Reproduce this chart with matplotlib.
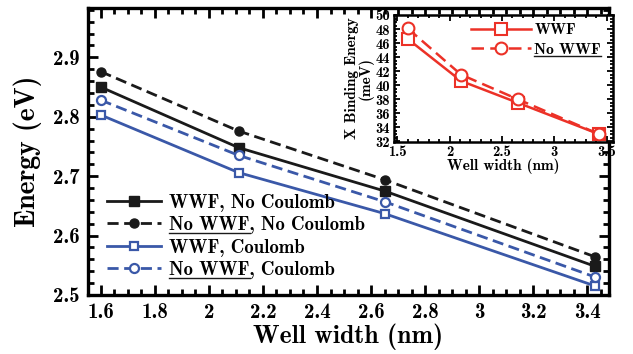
import numpy as np
import matplotlib
matplotlib.use('Agg')
import matplotlib.pyplot as plt
from matplotlib.ticker import MultipleLocator, FuncFormatter
from matplotlib.lines import Line2D

plt.rcParams['font.family'] = ['cmb10', 'DejaVu Serif']
plt.rcParams['axes.unicode_minus'] = False
plt.rcParams['mathtext.fontset'] = 'cm'

# data
width = [1.6, 2.11, 2.65, 3.43]
wwf_nocoul = [2.850, 2.748, 2.675, 2.548]
nowwf_nocoul = [2.876, 2.776, 2.694, 2.564]
wwf_coul = [2.803, 2.706, 2.637, 2.515]
nowwf_coul = [2.828, 2.735, 2.657, 2.530]

eb_wwf = [46.6, 40.6, 37.5, 33.0]
eb_nowwf = [48.1, 41.5, 38.0, 33.0]

BLACK = '#1a1a1a'
BLUE = '#3a58a8'
RED = '#ec3127'

fig = plt.figure(figsize=(6.33, 3.54), dpi=100)
W, H = 633, 354
ax = fig.add_axes([88 / W, 1 - 295 / H, (609 - 88) / W, (295 - 8) / H])

ax.plot(width, wwf_nocoul, '-', color=BLACK, lw=2, marker='s', ms=6.5,
        label='WWF, No Coulomb')
ax.plot(width, nowwf_nocoul, '--', color=BLACK, lw=2, marker='o', ms=6.5,
        dashes=(4, 2), label='No WWF, No Coulomb')
ax.plot(width, wwf_coul, '-', color=BLUE, lw=2, marker='s', ms=6, mfc='white',
        mew=1.6, label='WWF, Coulomb')
ax.plot(width, nowwf_coul, '--', color=BLUE, lw=2, marker='o', ms=6.5, mfc='white',
        mew=1.6, dashes=(4, 2), label='No WWF, Coulomb')

ax.set_xlim(1.553, 3.48)
ax.set_ylim(2.5, 2.983)
ax.xaxis.set_major_locator(MultipleLocator(0.2))
ax.xaxis.set_minor_locator(MultipleLocator(0.05))
ax.yaxis.set_major_locator(MultipleLocator(0.1))
ax.yaxis.set_minor_locator(MultipleLocator(0.02))
fmt = FuncFormatter(lambda v, p: '%g' % round(v, 3))
ax.xaxis.set_major_formatter(fmt)
ax.yaxis.set_major_formatter(fmt)
ax.tick_params(which='both', direction='in', top=True, right=True, width=2, labelsize=15)
ax.tick_params(which='major', length=7, pad=6)
ax.tick_params(which='minor', length=4)
for s in ax.spines.values():
    s.set_linewidth(2.4)
ax.set_xlabel('Well width (nm)', fontsize=18.5, labelpad=1)
ax.set_ylabel('Energy (eV)', fontsize=20, labelpad=8)

leg = ax.legend(loc='lower left', bbox_to_anchor=(0.012, 0.01), frameon=False,
                fontsize=13.5, handlelength=2.85, handletextpad=0.45,
                labelspacing=0.24, borderpad=0.2)

# inset
ins = fig.add_axes([394 / W, 1 - 142 / H, (613 - 394) / W, (142 - 15) / H])
ins.plot(width, eb_wwf, '-', color=RED, lw=1.8, marker='s', ms=8, mfc='white',
         mew=1.5, label='WWF')
ins.plot(width, eb_nowwf, '--', color=RED, lw=1.8, marker='o', ms=8.5, mfc='white',
         mew=1.5, dashes=(5, 2.5), label='No WWF')
ins.set_xlim(1.47, 3.56)
ins.set_ylim(31.9, 50)
ins.xaxis.set_major_locator(MultipleLocator(0.5))
ins.xaxis.set_minor_locator(MultipleLocator(0.1))
ins.yaxis.set_major_locator(MultipleLocator(2))
ins.yaxis.set_minor_locator(MultipleLocator(0.5))
ins.xaxis.set_major_formatter(fmt)
ins.tick_params(which='both', direction='in', top=True, right=True, width=1.3, labelsize=10.5)
ins.tick_params(which='major', length=4.5)
ins.tick_params(axis='y', which='major', pad=3)
ins.tick_params(axis='x', which='major', pad=2)
ins.tick_params(which='minor', length=2.5)
for s in ins.spines.values():
    s.set_linewidth(1.8)
ins.set_xlabel('Well width (nm)', fontsize=11, labelpad=0)
ins.set_ylabel('X Binding Energy\n(meV)', fontsize=11, labelpad=1, linespacing=0.95)
leg2 = ins.legend(loc='upper right', bbox_to_anchor=(0.995, 1.02), frameon=False,
                  fontsize=11.2, handlelength=3.85, handletextpad=0.2,
                  labelspacing=0.35, borderpad=0.2)

# underline "No WWF" in legend labels
fig.canvas.draw()
rend = fig.canvas.get_renderer()
for lg in (leg, leg2):
    for t in lg.get_texts():
        if t.get_text().startswith('No WWF'):
            bb = t.get_window_extent(rend)
            w, h, d = rend.get_text_width_height_descent('No WWF', t.get_fontproperties(),
                                                         ismath=False)
            yb = t.get_transform().transform(t.get_position())[1]
            y = yb - 2.5
            fig.add_artist(Line2D([bb.x0 / W, (bb.x0 + w) / W], [y / H, y / H],
                                  color=BLACK, lw=1.0, transform=fig.transFigure))

fig.savefig('out.png', dpi=100)
